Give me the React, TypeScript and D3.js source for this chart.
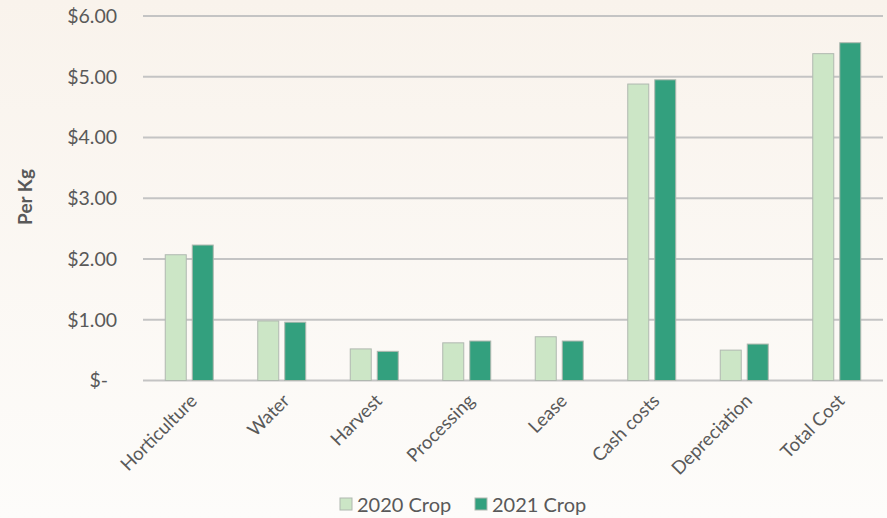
import React from "react";
import * as d3 from "d3";

const categories = ["Horticulture", "Water", "Harvest", "Processing", "Lease", "Cash costs", "Depreciation", "Total Cost"];
const series = ["2020 Crop", "2021 Crop"];
const values2020 = [2.07, 0.98, 0.52, 0.62, 0.72, 4.88, 0.5, 5.38];
const values2021 = [2.23, 0.96, 0.48, 0.65, 0.65, 4.95, 0.6, 5.56];
const yTicks = [0, 1, 2, 3, 4, 5, 6];
const colors = ["#cce6c6", "#33a07e"];

const W = 887;
const H = 518;
const FONT = "Lato, 'Open Sans', sans-serif";
const TEXT = "#595959";

export default function App() {
  const x = d3.scaleBand<string>().domain(categories).range([143, 883]);
  const y = d3.scaleLinear().domain([0, 6]).range([380.5, 16]);
  const barW = 21;
  const gap = 6;
  const data = [values2020, values2021];
  const fmt = (v: number) => (v === 0 ? "$-" : d3.format("$.2f")(v));

  return (
    <div style={{ position: "fixed", left: 0, top: 0 }}>
      <svg width={W} height={H} style={{ display: "block" }}>
        <defs>
          <linearGradient id="bg" x1="0" y1="0" x2="0" y2="1">
            <stop offset="0" stopColor="#f9f3ec" />
            <stop offset="1" stopColor="#fdfcfa" />
          </linearGradient>
        </defs>
        <rect width={W} height={H} fill="url(#bg)" />
        {yTicks.map((t) => (
          <g key={t}>
            <line x1={143} x2={883} y1={y(t)} y2={y(t)} stroke="#c4c4c4" strokeWidth={2} />
            <text
              x={t === 0 ? 108 : 117}
              y={y(t)}
              dy="0.35em"
              textAnchor="end"
              fontFamily={FONT}
              fontSize={19.5}
              fill={TEXT}
            >
              {fmt(t)}
            </text>
          </g>
        ))}
        {categories.map((c, i) => {
          const cx = x(c)! + x.bandwidth() / 2;
          return (
            <g key={c}>
              {data.map((vals, s) => {
                const bx = s === 0 ? cx - gap / 2 - barW : cx + gap / 2;
                return (
                  <rect
                    key={s}
                    x={bx}
                    y={y(vals[i])}
                    width={barW}
                    height={y(0) - y(vals[i])}
                    fill={colors[s]}
                    stroke="#b0b8b0"
                    strokeWidth={1}
                  />
                );
              })}
              <text
                transform={`translate(${cx + 9},${402}) rotate(-45)`}
                textAnchor="end"
                fontFamily={FONT}
                fontSize={18.5}
                fill={TEXT}
              >
                {c}
              </text>
            </g>
          );
        })}
        <text
          transform={`translate(32,197) rotate(-90)`}
          textAnchor="middle"
          fontFamily={FONT}
          fontSize={19}
          fontWeight="bold"
          fill={TEXT}
        >
          Per Kg
        </text>
        {series.map((s, i) => {
          const lx = i === 0 ? 340 : 475;
          return (
            <g key={s}>
              <rect x={lx} y={498} width={12} height={12} fill={colors[i]} stroke="#b0b8b0" />
              <text x={lx + 17} y={505} dy="0.35em" fontFamily={FONT} fontSize={20} fill={TEXT}>
                {s}
              </text>
            </g>
          );
        })}
      </svg>
    </div>
  );
}
